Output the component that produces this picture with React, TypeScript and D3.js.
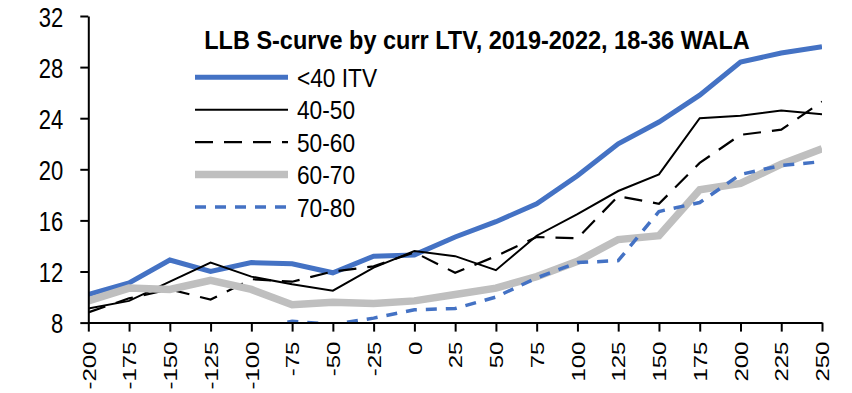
import React, { useRef, useEffect } from 'react';
import * as d3 from 'd3';

// x categories (rate incentive, bp)
const categories = ['-200', '-175', '-150', '-125', '-100', '-75', '-50', '-25', '0', '25', '50', '75', '100', '125', '150', '175', '200', '225', '250'];

// series values
const ltvUnder40 = [10.2, 11.1, 12.9, 12.0, 12.7, 12.6, 11.9, 13.2, 13.3, 14.7, 15.9, 17.3, 19.5, 22.0, 23.7, 25.8, 28.4, 29.1, 29.6];
const ltv40to50 = [9.1, 9.7, 11.2, 12.7, 11.6, 11.0, 10.5, 12.3, 13.6, 13.2, 12.1, 14.8, 16.5, 18.3, 19.6, 24.0, 24.2, 24.6, 24.3];
const ltv50to60 = [8.8, 9.9, 10.6, 9.8, 11.4, 11.2, 12.0, 12.4, 13.5, 11.9, 13.2, 14.7, 14.6, 17.9, 17.3, 20.5, 22.7, 23.1, 25.3];
const ltv60to70 = [9.7, 10.7, 10.6, 11.3, 10.6, 9.4, 9.6, 9.5, 9.7, 10.2, 10.7, 11.6, 12.8, 14.5, 14.8, 18.4, 18.9, 20.4, 21.6];
const ltv70to80 = [7.0, 7.2, 7.3, 7.2, 7.5, 8.1, 7.85, 8.35, 9.0, 9.1, 10.0, 11.5, 12.7, 12.85, 16.7, 17.4, 19.6, 20.3, 20.6];

const yTicks = [8, 12, 16, 20, 24, 28, 32];
const seriesNames = ['<40 ITV', '40-50', '50-60', '60-70', '70-80'];
const title = 'LLB S-curve by curr LTV, 2019-2022, 18-36 WALA';

const FONT = '"Liberation Sans", Arial, sans-serif';

export default function App() {
  const svgRef = useRef<SVGSVGElement>(null);

  useEffect(() => {
    if (!svgRef.current) return;
    const width = 852;
    const height = 393;
    const svg = d3.select(svgRef.current).attr('width', width).attr('height', height);
    svg.selectAll('*').remove();

    const left = 88.3, right = 822, top = 16, bottom = 322.6;

    const x = d3.scalePoint<string>().domain(categories).range([left, right]);
    const y = d3.scaleLinear().domain([8, 32]).range([bottom, top]);

    const styles = [
      { data: ltvUnder40, color: '#4472C4', width: 5, dash: null },
      { data: ltv40to50, color: '#000000', width: 2, dash: null },
      { data: ltv50to60, color: '#000000', width: 2.2, dash: '18,11' },
      { data: ltv60to70, color: '#BFBFBF', width: 7.5, dash: null },
      { data: ltv70to80, color: '#4472C4', width: 3.5, dash: '11,9' },
    ];

    svg.append('defs').append('clipPath').attr('id', 'plot-clip')
      .append('rect')
      .attr('x', left).attr('y', top)
      .attr('width', right - left).attr('height', bottom - top);

    //lines
    const line = d3.line<number>()
      .x((_, i) => x(categories[i]) as number)
      .y(d => y(d));

    const linesGroup = svg.append('g').attr('clip-path', 'url(#plot-clip)');
    styles.forEach(s => {
      linesGroup.append('path')
        .datum(s.data)
        .attr('fill', 'none')
        .attr('stroke', s.color)
        .attr('stroke-width', s.width)
        .attr('stroke-dasharray', s.dash)
        .attr('stroke-linejoin', 'miter')
        .attr('d', line);
    });

    //axes
    const yAxis = d3.axisLeft(y).tickValues(yTicks).tickSize(8).tickSizeOuter(0).tickFormat(d => String(d));
    const gy = svg.append('g').attr('transform', `translate(${left},0)`).call(yAxis);
    gy.select('.domain').attr('stroke', '#000').attr('stroke-width', 2);
    gy.selectAll('.tick line').attr('stroke', '#000').attr('stroke-width', 2);
    gy.selectAll('.tick text')
      .attr('x', null).attr('dy', null)
      .attr('fill', '#000')
      .attr('font-family', FONT)
      .attr('font-size', 22)
      .attr('text-anchor', 'end')
      .attr('transform', 'translate(-25,10) scale(1,1.27)');

    const xAxis = d3.axisBottom(x).tickSize(9).tickSizeOuter(0);
    const gx = svg.append('g').attr('transform', `translate(0,${bottom})`).call(xAxis);
    gx.select('.domain').attr('stroke', '#000').attr('stroke-width', 2);
    gx.selectAll('.tick line').attr('stroke', '#000').attr('stroke-width', 2);
    gx.selectAll('.tick text')
      .attr('y', null).attr('dy', null)
      .attr('fill', '#000')
      .attr('font-family', FONT)
      .attr('font-size', 18.6)
      .attr('text-anchor', 'end')
      .attr('transform', 'translate(6.7,19) rotate(-90) scale(1.29,1)');

    //title
    svg.append('text')
      .attr('transform', 'translate(477,49.3) scale(1,1.1)')
      .attr('text-anchor', 'middle')
      .attr('font-family', FONT)
      .attr('font-weight', 'bold')
      .attr('font-size', 23.5)
      .attr('fill', '#000')
      .text(title);

    //legend
    const legendRow = d3.scaleLinear().domain([0, 4]).range([77.3, 207]);
    const legend = svg.append('g');
    styles.forEach((s, i) => {
      const ly = legendRow(i);
      legend.append('line')
        .attr('x1', 195).attr('x2', 288)
        .attr('y1', ly).attr('y2', ly)
        .attr('stroke', s.color)
        .attr('stroke-width', s.width)
        .attr('stroke-dasharray', s.dash);
      legend.append('text')
        .attr('transform', `translate(297,${ly + 9.6}) scale(1,1.17)`)
        .attr('font-family', FONT)
        .attr('font-size', 22.7)
        .attr('fill', '#000')
        .text(seriesNames[i]);
    });
  }, []);

  return (
    <div style={{ position: 'absolute', left: 0, top: 0, width: 852, height: 393, background: '#fff' }}>
      <svg ref={svgRef} />
    </div>
  );
}
